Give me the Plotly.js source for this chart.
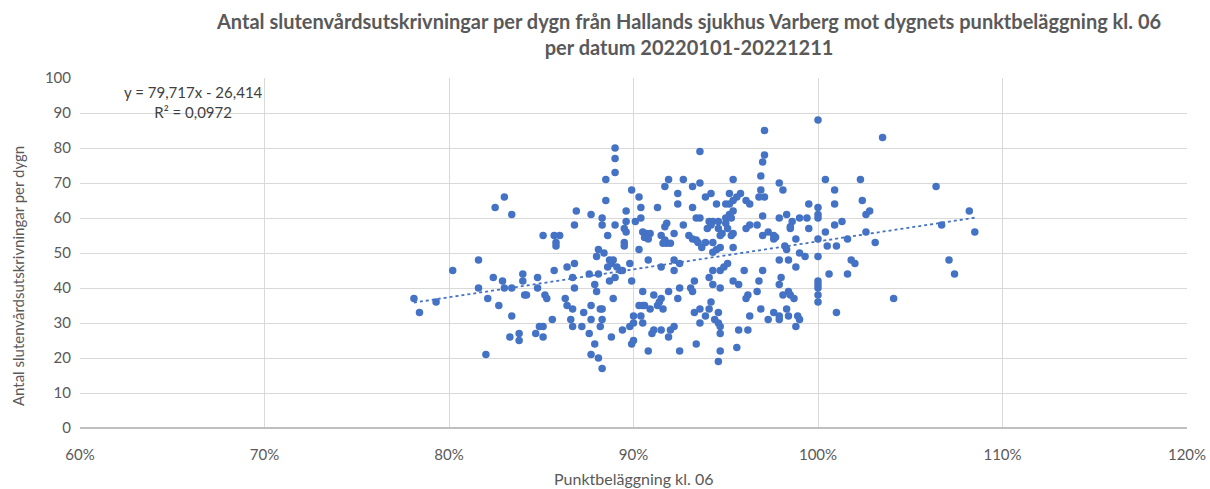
<!DOCTYPE html>
<html><head><meta charset="utf-8">
<script src="https://cdn.plot.ly/plotly-3.0.1.min.js"></script>
<style>body{margin:0;background:#fff}#chart{width:1210px;height:489px}</style>
</head><body><div id="chart"></div>
<script>
// Punktbeläggning kl. 06 (%) and antal slutenvårdsutskrivningar per dygn
const occupancy = [
78.1,78.4,79.3,80.2,81.6,81.6,82.1,82.4,82.7,82.9,83.0,83.4,83.4,83.3,83.8,83.8,82.0,84.0,84.0,84.1,83.0,82.5,83.4,
89.0,89.0,89.0,88.5,89.9,90.3,88.5,90.4,86.9,87.7,88.3,89.6,89.6,90.1,90.4,86.8,88.3,89.0,89.5,89.6,85.1,85.7,86.0,85.8,85.8,88.6,89.5,88.1,90.3,90.5,
88.4,88.0,89.5,88.7,88.9,88.6,88.8,89.1,89.3,89.4,89.8,89.0,88.7,89.9,84.8,84.8,84.2,85.7,86.4,86.8,86.7,86.8,87.6,88.1,87.9,88.0,85.2,85.3,86.3,86.4,86.7,87.7,88.2,88.3,87.3,88.9,86.6,86.7,87.7,88.3,88.2,87.2,85.6,84.9,85.1,84.7,85.1,87.6,87.9,88.8,87.7,88.1,88.3,89.4,89.8,90.0,90.0,90.4,90.5,89.9,90.0,90.3,90.5,90.5,
97.1,93.6,97.1,97.0,96.9,91.9,91.7,92.7,93.2,93.6,95.4,92.4,92.4,91.3,93.2,93.9,94.2,94.5,95.2,95.8,95.6,95.4,95.2,95.0,96.1,96.3,96.9,96.8,95.4,95.2,95.0,95.3,93.4,93.6,94.1,94.3,94.6,91.8,91.7,92.7,94.0,94.2,94.6,94.8,95.0,95.1,96.3,96.1,96.7,97.0,90.7,90.9,90.6,90.8,91.5,91.7,92.2,93.0,93.2,93.4,93.5,93.9,94.3,94.7,95.3,95.4,97.0,95.4,91.8,92.0,91.6,93.7,94.7,94.5,
90.8,92.2,92.5,92.2,91.5,94.3,94.3,94.7,94.9,95.1,94.1,93.3,93.1,93.2,92.5,91.9,94.3,94.7,95.4,95.7,96.0,96.8,97.0,96.7,96.2,96.1,91.1,92.4,91.5,91.4,91.3,91.6,90.6,90.9,93.3,93.6,93.9,94.2,94.1,93.6,94.6,94.4,94.6,94.7,94.7,96.3,95.7,96.2,91.1,91.0,91.5,92.0,92.2,91.9,93.4,90.8,92.5,94.7,94.6,95.6,96.9,
100.0,103.5,97.9,98.1,100.4,102.3,100.9,102.4,100.9,99.5,100.0,100.0,100.0,97.1,97.9,98.3,98.6,98.5,98.5,99.0,99.4,99.5,101.3,100.9,102.6,102.8,100.4,102.6,97.3,97.6,97.7,97.6,98.8,100.0,101.6,103.1,98.2,98.3,100.5,101.0,
99.0,99.3,97.9,98.4,100.0,98.8,101.8,102.0,100.6,101.6,98.0,97.9,100.0,100.0,100.0,100.0,100.0,98.4,98.1,98.5,98.7,97.6,97.9,97.9,98.3,98.4,97.3,98.9,99.0,98.8,101.0,
106.4,108.2,106.7,108.5,107.1,107.4,104.1
];
const discharges = [
37,33,36,45,48,40,37,43,35,42,40,40,32,26,27,25,21,44,42,38,66,63,61,
80,77,73,71,68,66,65,63,62,61,60,62,59,59,60,58,58,58,57,56,55,55,55,53,52,55,53,51,51,56,
50,49,52,48,48,46,47,46,45,45,47,43,42,42,43,40,38,45,46,47,43,40,44,44,41,39,38,37,37,35,34,35,34,34,33,37,31,29,31,31,29,29,31,29,29,27,26,27,24,26,21,20,17,28,29,32,30,32,30,24,25,35,35,39,
85,79,78,76,72,71,69,71,69,70,71,67,64,63,63,66,67,64,67,67,66,65,64,64,65,64,68,66,62,61,60,60,60,60,59,59,59,58.5,57.5,58,57,58,57,55.6,58.5,57,58,57,58,60.6,55.6,55.6,54.4,54,55,53.7,55.6,55,54,53.7,53,53,53,55,55,55.6,55,51.6,52.8,52.8,52.8,51.6,51.6,51,
48,48,47,45,46,50.2,45,45,46,47,43,42,40,39,40,39,41,40,42,41,45,42,45,39,38,37,38,37,37,36,35,34,35,34,33,34,32,36,34,30,33,31,30,29,27,32,28,28,28,27,28,28,29,26,24,22,22,22,19,23,34,
88,83,70,68,71,71,68,65,64,64,63,61,60,66,60,61,59,57.5,57,60,60,57,59,58,61,62,56,56,56,55,54.5,54,54,54,54,53,52,51,52,52,
50,49,48,48,49,46,48,47,44,44,43,41,42,41,40,38,36,39,38,38,37,33,32,31,34,32,31,32,31,29,33,
69,62,58,56,48,44,37
];
const xTicks = [60,70,80,90,100,110,120];
const xTickLabels = ['60%','70%','80%','90%','100%','110%','120%'];
const slope = 0.79717, intercept = -26.414; // y = 79,717x - 26,414 (x as fraction)

const fitX = [Math.min(...occupancy), Math.max(...occupancy)];
const fitY = fitX.map(p => slope*p + intercept);

const grey = '#595959';
const font = 'Lato, "Open Sans", sans-serif';

Plotly.newPlot('chart', [
  {type:'scatter', mode:'lines', x:fitX, y:fitY, line:{color:'#4472C4', width:1.8, dash:'dot'}, hoverinfo:'skip'},
  {type:'scatter', mode:'markers', x:occupancy, y:discharges, marker:{color:'#4472C4', size:7.5}}
], {
  width:1210, height:489, showlegend:false,
  paper_bgcolor:'#fff', plot_bgcolor:'#fff',
  margin:{l:80, r:23, t:78, b:61},
  font:{family:font, color:grey, size:14},
  xaxis:{range:[60,120], tickvals:xTicks, ticktext:xTickLabels, showgrid:true, gridcolor:'#D9D9D9', zeroline:false, showline:false, ticks:'', ticklabelstandoff:16, tickfont:{size:15, color:grey}, fixedrange:true},
  yaxis:{range:[0,100], dtick:10, showgrid:true, gridcolor:'#D9D9D9', zeroline:true, zerolinecolor:'#BFBFBF', zerolinewidth:1.5, showline:false, ticks:'', ticklabelstandoff:8, tickfont:{size:15, color:grey}, fixedrange:true},
  annotations:[
    {text:'<b>Antal slutenvårdsutskrivningar per dygn från Hallands sjukhus Varberg mot dygnets punktbeläggning kl. 06<br>per datum 20220101-20221211</b>',
      xref:'paper', yref:'paper', x:(688-80)/1107, y:(428-34.5)/350, xanchor:'center', yanchor:'middle', showarrow:false, align:'center', font:{size:20, color:grey}},
    {text:'Antal slutenvårdsutskrivningar per dygn', textangle:-90, xref:'paper', yref:'paper', x:0, y:0.434, xanchor:'center', yanchor:'middle', xshift:-62, showarrow:false, font:{size:15, color:grey}},
    {text:'Punktbeläggning kl. 06', xref:'paper', yref:'paper', x:0.5, y:0, xanchor:'center', yanchor:'middle', yshift:-50, showarrow:false, font:{size:16, color:grey}},
    {text:'y = 79,717x - 26,414<br>R² = 0,0972', xref:'paper', yref:'paper', x:(193-80)/1107, y:(428-102)/350, xanchor:'center', yanchor:'middle', showarrow:false, align:'center', font:{size:15, color:'#404040'}}
  ]
}, {displayModeBar:false, staticPlot:true});
</script></body></html>
